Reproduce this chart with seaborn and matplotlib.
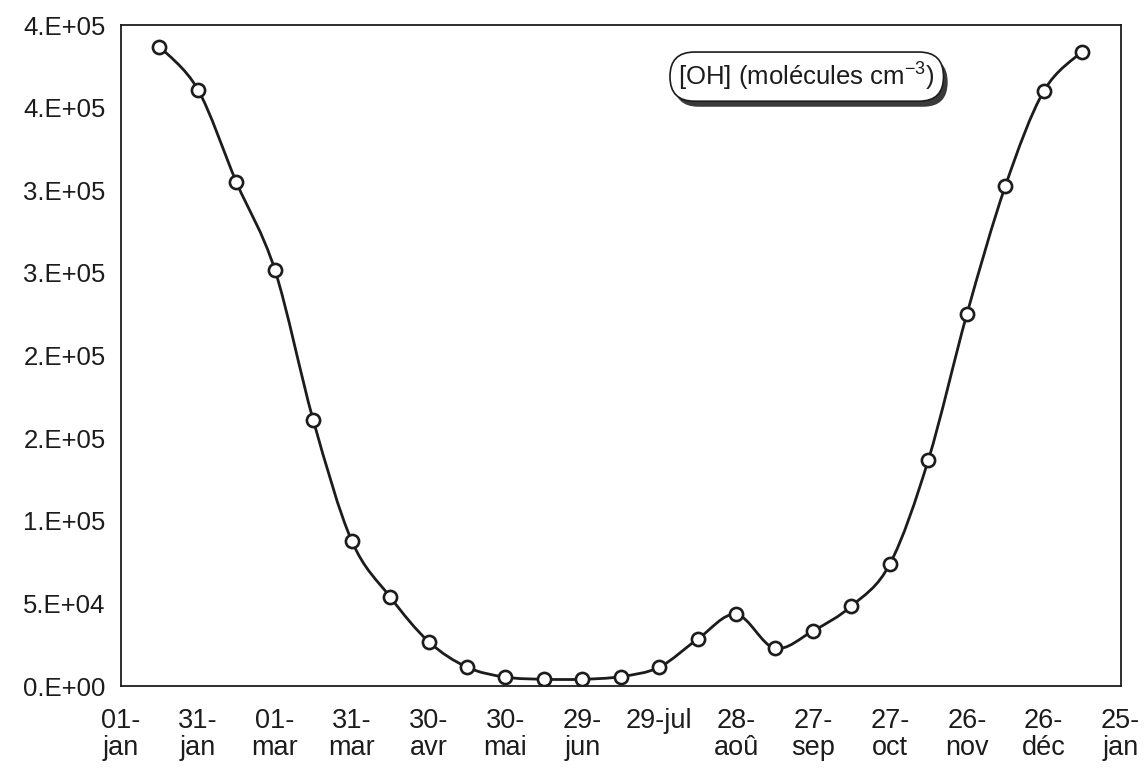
import numpy as np
import seaborn as sns
import matplotlib.pyplot as plt
import matplotlib.patheffects as pe
from matplotlib.path import Path
from matplotlib.patches import PathPatch
from matplotlib.ticker import MultipleLocator, FixedLocator

# Data (day counted from 01-jan, OH concentration in molecules cm-3)
days = [15, 30, 45, 60, 75, 90, 105, 120, 135, 150, 165, 180, 195,
        210, 225, 240, 255, 270, 285, 300, 315, 330, 345, 360, 375]
oh = [387000, 361000, 305000, 252000, 161000, 88000, 54000, 27000, 11500,
      5500, 4200, 4200, 5800, 11500, 28500, 43500, 23000, 33500, 48500,
      74000, 137000, 225000, 302500, 360000, 384000]

tick_days = [0, 30, 60, 90, 120, 150, 180, 210, 240, 270, 300, 330, 360, 390]
tick_labels = ["01-\njan", "31-\njan", "01-\nmar", "31-\nmar", "30-\navr",
               "30-\nmai", "29-\njun", "29-jul", "28-\naoû", "27-\nsep",
               "27-\noct", "26-\nnov", "26-\ndéc", "25-\njan"]
y_ticks = [0, 50000, 100000, 150000, 200000, 250000, 300000, 350000, 400000]
y_labels = ["0.E+00", "5.E+04", "1.E+05", "2.E+05", "2.E+05",
            "3.E+05", "3.E+05", "4.E+05", "4.E+05"]

sns.set_style("white")
plt.rcParams['font.family'] = ['Liberation Sans', 'DejaVu Sans']
plt.rcParams['mathtext.fontset'] = 'custom'
plt.rcParams['mathtext.rm'] = 'Liberation Sans'
plt.rcParams['mathtext.it'] = 'Liberation Sans'

ink = '#1c1c1c'
dpi = 100
fig = plt.figure(figsize=(1147 / dpi, 771 / dpi), dpi=dpi)
ax = fig.add_axes([0.1055, 0.110, 0.8715, 0.8575])

# Smoothed line (Excel-like bezier through the points)
x = np.array(days, dtype=float)
y = np.array(oh, dtype=float)
xp = np.concatenate([[x[0]], x, [x[-1]]])
yp = np.concatenate([[y[0]], y, [y[-1]]])
verts = [(x[0], y[0])]
codes = [Path.MOVETO]
for i in range(1, len(x)):
    c1 = (xp[i] + (xp[i + 1] - xp[i - 1]) / 6, yp[i] + (yp[i + 1] - yp[i - 1]) / 6)
    c2 = (xp[i + 1] - (xp[i + 2] - xp[i]) / 6, yp[i + 1] - (yp[i + 2] - yp[i]) / 6)
    verts += [c1, c2, (x[i], y[i])]
    codes += [Path.CURVE4] * 3
ax.add_patch(PathPatch(Path(verts, codes), fc='none', ec=ink, lw=2.0, zorder=2))

# Markers
sns.scatterplot(x=days, y=oh, ax=ax, s=90, marker='o', facecolor='white',
                edgecolor=ink, linewidth=1.9, zorder=3)

ax.set_xlim(0, 390)
ax.set_ylim(0, 400000)
ax.xaxis.set_major_locator(FixedLocator(tick_days))
ax.xaxis.set_minor_locator(MultipleLocator(15))
ax.set_xticklabels(tick_labels)
ax.yaxis.set_major_locator(FixedLocator(y_ticks))
ax.yaxis.set_minor_locator(MultipleLocator(25000))
ax.set_yticklabels(y_labels)

ax.tick_params(axis='both', which='both', direction='in', length=6, width=1.1,
               color=ink)
ax.tick_params(axis='y', which='major', labelsize=18.5, pad=11, labelcolor=ink)
ax.tick_params(axis='x', which='major', labelsize=19.5, pad=16, labelcolor=ink)
for lab in ax.get_xticklabels():
    lab.set_linespacing(1.05)

for sp in ax.spines.values():
    sp.set_visible(True)
    sp.set_color(ink)
    sp.set_linewidth(1.3)
ax.set_xlabel('')
ax.set_ylabel('')

# Label box with shadow
label = "[OH] (molécules cm$^{\\mathregular{-3}}$)"
t = ax.text(0.686, 0.922, label, fontsize=18.5, ha='center', va='center', color=ink,
            bbox=dict(boxstyle="round,pad=0.33,rounding_size=0.95", fc='white',
                      ec=ink, lw=1.2),
            transform=ax.transAxes, zorder=6)
t.get_bbox_patch().set_path_effects([
    pe.SimplePatchShadow(offset=(3, -4), shadow_rgbFace='#3a3a3a', alpha=1.0),
    pe.Normal()])

plt.savefig('out.png', dpi=dpi)
